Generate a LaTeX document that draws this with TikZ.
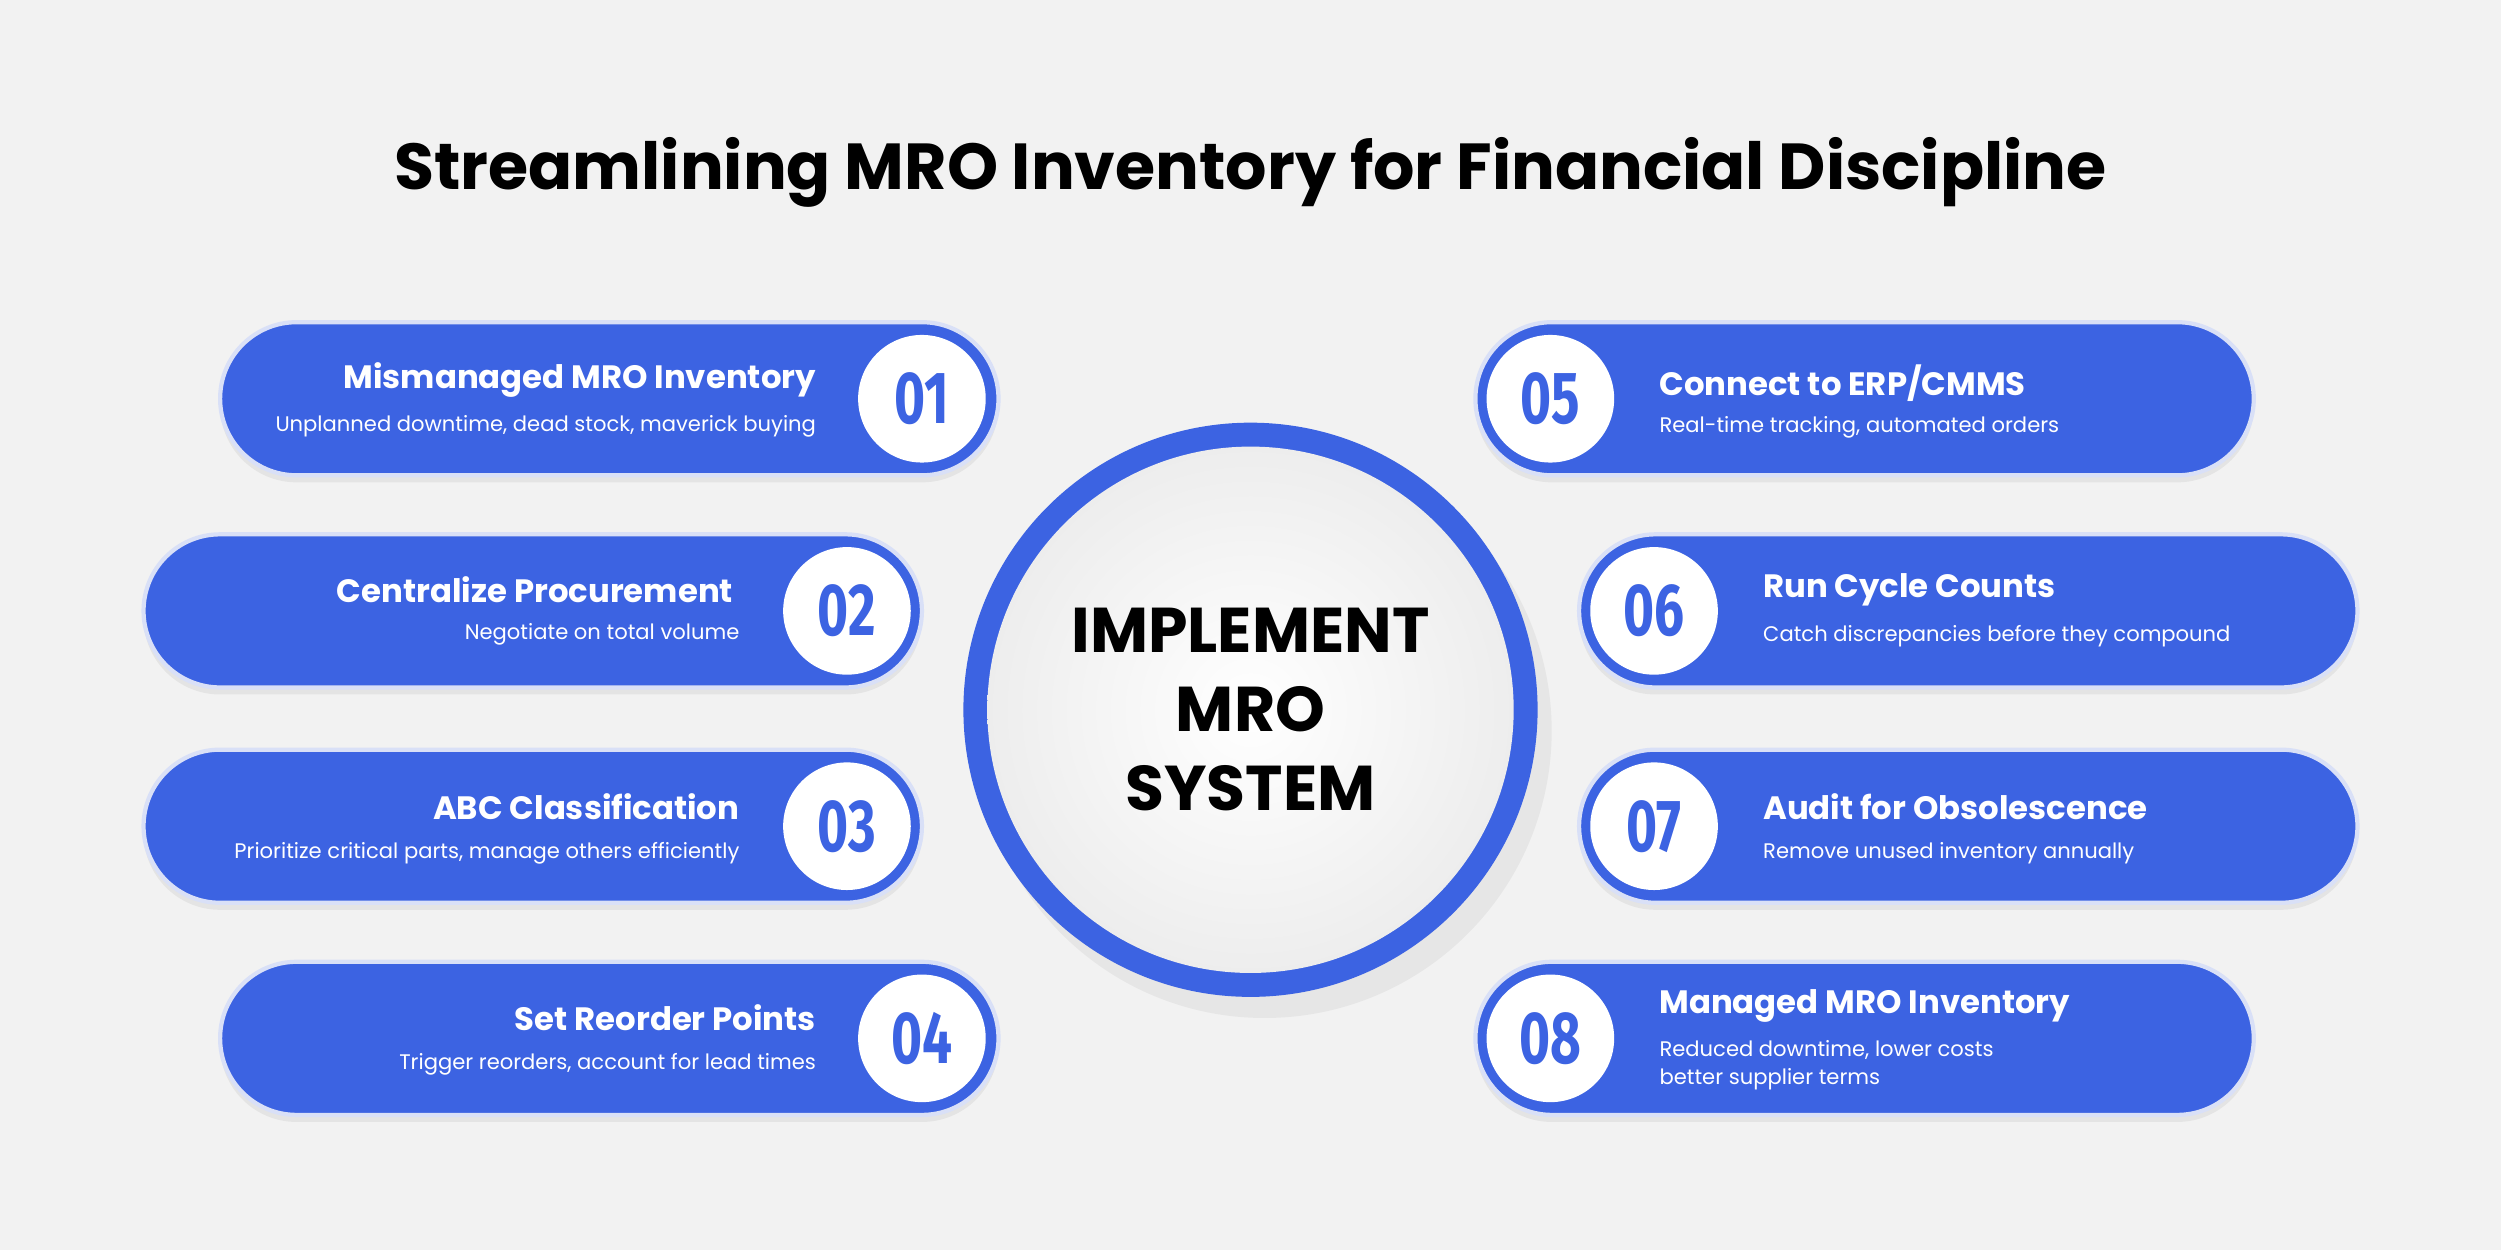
\documentclass[tikz,border=0pt]{standalone}
\usepackage{fontspec}
\setmainfont{Poppins}
\newfontfamily\numfont{Fira Sans}
\usetikzlibrary{shapes.misc,shadows}
\definecolor{mroblue}{HTML}{3C63E2}
\definecolor{mrobg}{HTML}{F2F2F2}
\definecolor{mroring}{HTML}{D9E0F7}
\def\u{0.01595cm}
\tikzset{
  pill/.style={rounded rectangle, fill=mroblue, draw=mroring, line width=1.2pt,
    minimum width={488*\u}, minimum height={96*\u}, inner sep=0pt,
    drop shadow={shadow xshift=0pt, shadow yshift=-2pt, opacity=0.12}},
  num/.style={circle, fill=white, minimum size={80*\u}, inner sep=0pt,
    text=mroblue, font=\numfont\fontsize{21}{21}\selectfont\bfseries},
  head/.style={text=white, inner sep=0pt, font=\fontsize{9.2}{10}\selectfont\bfseries},
  sub/.style={text=white, inner sep=0pt, font=\fontsize{6}{8}\selectfont}
}
\newcommand{\narrow}[1]{\scalebox{0.72}[1]{#1}}
\begin{document}
\begin{tikzpicture}[x=\u, y=-\u]
\fill[mrobg] (0,0) rectangle (1568,784);
\useasboundingbox (0,0) rectangle (1568,784);

\node[font=\fontsize{18.5}{20}\selectfont\bfseries] (title) at (784,108) {Streamlining MRO Inventory for Financial Discipline};

% central circle
\node[circle, fill=mroblue, minimum size={360*\u}, inner sep=0pt,
  drop shadow={shadow xshift=4pt, shadow yshift=-6pt, opacity=0.10}] (ring) at (784,445) {};
\node[circle, inner color=white, outer color=white!93!black, minimum size={330*\u}, inner sep=0pt,
  align=center, font=\fontsize{18}{22.5}\selectfont\bfseries] (core) at (784,445) {IMPLEMENT\\MRO\\SYSTEM};

% left column
\foreach \i/\x/\y/\cx in {1/382/250/578, 2/334/383/531, 3/334/518/531, 4/382/651/578}
  {
  \node[pill] (p\i) at (\x,\y) {};
  \node[num] (n\i) at (\cx,\y) {\narrow{0\i}};
  }
% right column
\foreach \i/\x/\y/\cx in {5/1169/250/972, 6/1234/383/1037, 7/1234/518/1037, 8/1169/651/972}
  {
  \node[pill] (p\i) at (\x,\y) {};
  \node[num] (n\i) at (\cx,\y) {\narrow{0\i}};
  }

\node[head, anchor=east] (h1) at (512,238) {Mismanaged MRO Inventory};
\node[sub, anchor=east] (s1) at (512,267) {Unplanned downtime, dead stock, maverick buying};
\node[head, anchor=east] (h2) at (460,370) {Centralize Procurement};
\node[sub, anchor=east] (s2) at (464,398) {Negotiate on total volume};
\node[head, anchor=east] (h3) at (464,506) {ABC Classification};
\node[sub, anchor=east] (s3) at (464,535) {Prioritize critical parts, manage others efficiently};
\node[head, anchor=east] (h4) at (512,638) {Set Reorder Points};
\node[sub, anchor=east] (s4) at (512,667) {Trigger reorders, account for lead times};

\node[head, anchor=west] (h5) at (1040,240) {Connect to ERP/CMMS};
\node[sub, anchor=west] (s5) at (1040,268) {Real-time tracking, automated orders};
\node[head, anchor=west] (h6) at (1105,370) {Run Cycle Counts};
\node[sub, anchor=west] (s6) at (1105,399) {Catch discrepancies before they compound};
\node[head, anchor=west] (h7) at (1105,506) {Audit for Obsolescence};
\node[sub, anchor=west] (s7) at (1105,535) {Remove unused inventory annually};
\node[head, anchor=west] (h8) at (1040,631) {Managed MRO Inventory};
\node[sub, anchor=north west, align=left] (s8) at (1040,652) {Reduced downtime, lower costs\\better supplier terms};
\end{tikzpicture}
\end{document}
